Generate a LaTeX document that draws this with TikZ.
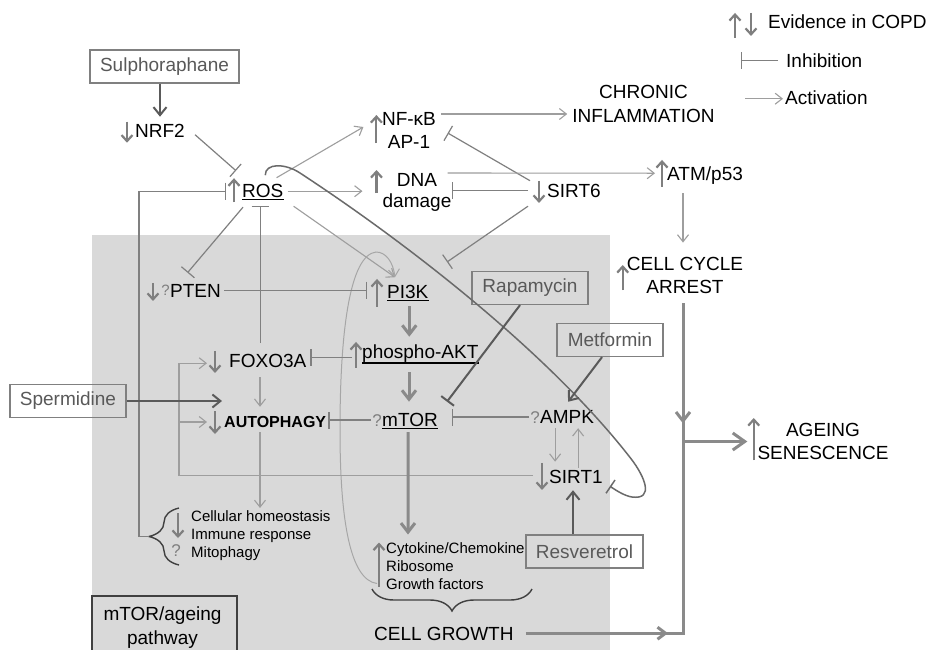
\documentclass[tikz,border=0pt]{standalone}
\usepackage{fontspec}
\setmainfont{Liberation Sans}
\usetikzlibrary{arrows.meta,calc,decorations.pathreplacing}
\definecolor{bgc}{HTML}{D9D9D9}
\definecolor{actc}{HTML}{9E9E9E}
\definecolor{inhc}{HTML}{808080}
\definecolor{drugc}{HTML}{5A5A5A}
\definecolor{thkc}{HTML}{8A8A8A}
\definecolor{evc}{HTML}{7F7F7F}
\definecolor{boxc}{HTML}{808080}
\definecolor{drugtxt}{HTML}{595959}
\definecolor{qc}{HTML}{7F7F7F}
\definecolor{brcc}{HTML}{404040}
\definecolor{loopc}{HTML}{6A6A6A}
\definecolor{curvec}{HTML}{A6A6A6}
\begin{document}
\begin{tikzpicture}[x=1pt,y=1pt,
  lab/.style={inner sep=0pt, anchor=base west, font=\fontsize{19}{23}\selectfont, text height=13.6pt, text depth=0pt},
  ml/.style={inner sep=0pt, align=center, font=\fontsize{19}{#1}\selectfont},
  drugbox/.style={draw=boxc, line width=1.2pt, text=drugtxt, font=\fontsize{19}{23}\selectfont, minimum width=#1, minimum height=33pt, inner sep=0pt},
  qm/.style={inner sep=0pt, anchor=base east, text=qc, font=\fontsize{17}{20}\selectfont},
  lst/.style={inner sep=0pt, anchor=north west, align=left, font=\fontsize{15}{18}\selectfont},
  act/.style={draw=actc, line width=1.1pt, -{Straight Barb[length=7pt,width=11pt]}},
  inh/.style={draw=inhc, line width=1.2pt, -{Bar[width=17pt]}},
  drug/.style={draw=drugc, line width=2pt, -{Straight Barb[length=8pt,width=13pt]}},
  druginh/.style={draw=drugc, line width=2pt, -{Bar[width=16pt]}},
  thk/.style={draw=thkc, line width=3pt},
  thka/.style={thk, -{Straight Barb[length=9pt,width=14pt]}},
  ev/.style={draw=evc, line width=2.2pt, -{Straight Barb[length=6pt,width=11pt]}},
  brc/.style={draw=brcc, line width=1.4pt, decorate, decoration={brace, amplitude=#1}},
  uln/.style={draw=black, line width=1.1pt},
  loopln/.style={draw=loopc, line width=1.5pt, -{Bar[width=16pt]}},
  pframe/.style={draw=brcc, line width=1.3pt}
]
\useasboundingbox (0,0) rectangle (928,-649);
\fill[white] (0,0) rectangle (928,-649);
\fill[bgc] (92,-235) rectangle (610,-660);

% ---------- nodes ----------
\node[lab] (nrf2) at (135,-137.5) {NRF2};
\node[lab] (ros) at (242,-197) {ROS};
\node[ml=23] (nfkb) at (409,-130) {NF-κB\\AP-1};
\node[ml=24] (chronic) at (643.5,-104) {CHRONIC\\INFLAMMATION};
\node[ml=21] (dna) at (417,-192) {DNA\\damage};
\node[lab] (sirt6) at (547,-197.5) {SIRT6};
\node[lab] (atm) at (667,-180) {ATM/p53};
\node[ml=23] (cca) at (685,-275) {CELL CYCLE\\ARREST};
\node[ml=23] (ageing) at (823,-441.5) {AGEING\\SENESCENCE};
\node[lab] (pten) at (170,-297) {PTEN};
\node[lab] (pi3k) at (387,-298) {PI3K};
\node[lab] (akt) at (362,-358) {phospho-AKT};
\node[lab] (foxo) at (229,-367) {FOXO3A};
\node[lab, font=\fontsize{16}{20}\selectfont\bfseries, text height=12pt] (auto) at (224,-427) {AUTOPHAGY};
\node[lab] (mtor) at (382,-426) {mTOR};
\node[lab] (ampk) at (540,-423) {AMPK};
\node[lab] (sirt1) at (549,-483) {SIRT1};
\node[lab] (cg) at (374,-640) {CELL GROWTH};

\node[qm, font=\fontsize{15}{18}\selectfont] (ptenq) at ($(pten.base west)+(0,2)$) {?};
\node[qm] (mtorq) at (mtor.base west) {?};
\node[qm] (ampkq) at (ampk.base west) {?};

\node[lst] (hom) at (191,-510) {Cellular homeostasis\\Immune response\\Mitophagy};
\node[lst] (cyt) at (386,-542.5) {Cytokine/Chemokine\\Ribosome\\Growth factors};
\node[qm, anchor=center] (homq) at ($(hom.north west)+(-15,-41)$) {?};

\node[ml=24] (mtorbox) at (162.5,-628) {mTOR/ageing\\pathway};
\draw[pframe] ($(mtorbox.center)+(-70.5,32)$) rectangle ($(mtorbox.center)+(74.5,-45)$);

\node[drugbox=149pt] (sulph) at (164.5,-66.5) {Sulphoraphane};
\node[drugbox=116pt] (sperm) at (68,-401) {Spermidine};
\node[drugbox=116pt] (rapa) at (530,-288) {Rapamycin};
\node[drugbox=106pt] (metf) at (610,-340) {Metformin};
\node[drugbox=117pt] (resv) at (584.5,-551.5) {Resveretrol};

% legend
\node[lab] (evl) at (768,-28) {Evidence in COPD};
\node[lab] (inhl) at (786,-67) {Inhibition};
\node[lab] (actl) at (785,-104) {Activation};
\draw[ev] ($(evl.west)+(-33,-16.75)$) -- ++(0,25);
\draw[ev] ($(evl.west)+(-17,8.25)$) -- ++(0,-23);
\draw[inh] ($(inhl.west)+(-8,0)$) -- ($(inhl.west)+(-45,0)$);
\draw[act] ($(actl.west)+(-40,-1.5)$) -- ($(actl.west)+(-2,-1.5)$);

% underlines
\draw[uln] ($(ros.base west)+(0,-2.5)$) -- ($(ros.base east)+(0,-2.5)$);
\draw[uln] ($(pi3k.base west)+(0,-2.2)$) -- ($(pi3k.base east)+(0,-2.2)$);
\draw[uln] ($(akt.base west)+(0,-5)$) -- ($(akt.base east)+(0,-5)$);
\draw[uln] ($(mtor.base west)+(0,-2.2)$) -- ($(mtor.base east)+(0,-2.2)$);

% evidence arrows
\draw[ev] ($(nrf2.west)+(-8,9)$) -- ++(0,-21);
\draw[ev] ($(ros.west)+(-8,-12)$) -- ++(0,24);
\draw[ev] ($(nfkb.west)+(-5.5,-13)$) -- ++(0,28);
\draw[ev] ($(dna.west)+(-6,-1)$) -- ++(0,23);
\draw[ev] ($(sirt6.west)+(-8,9.75)$) -- ++(0,-22);
\draw[ev] ($(atm.west)+(-5,-13.75)$) -- ++(0,27);
\draw[ev] ($(cca.west)+(-4,-15)$) -- ++(0,25);
\draw[ev] ($(ageing.west)+(-3.6,-18.5)$) -- ++(0,42);
\draw[ev] ($(pten.west)+(-17,7.25)$) -- ++(0,-18);
\draw[ev] ($(pi3k.west)+(-10,-15.75)$) -- ++(0,28);
\draw[ev] ($(akt.west)+(-6,-16.75)$) -- ++(0,26);
\draw[ev] ($(foxo.west)+(-14,9.25)$) -- ++(0,-22);
\draw[ev] ($(auto.west)+(-9,10)$) -- ++(0,-23);
\draw[ev] ($(sirt1.west)+(-7,13.25)$) -- ++(0,-27);
\draw[ev] ($(cyt.north west)+(-7,-44)$) -- ++(0,44);
\draw[ev] ($(hom.north west)+(-13,-3)$) -- ++(0,-25);

% braces
\coordinate (hb1) at (179,-565);
\coordinate (hb2) at (179,-508);
\draw[brc=30pt] (hb1) -- (hb2);
\coordinate (bracetip) at ($(hb1)!0.5!(hb2)+(-30,0)$);
\draw[brc=22pt] ($(cyt.north west)+(146,-46.5)$) -- ($(cyt.north west)+(-14,-46.5)$);

% ---------- connectors ----------
\draw[drug] (sulph.south -| nrf2.north) -- ($(nrf2.north)+(0,7)$);
\draw[inh] ($(nrf2.east)+(10,-4)$) -- ($(ros.north west)+(-6,12.5)$);
\draw[inh] (bracetip) -- ++(-10,0) |- ($(ros.west)+(-16,-1)$);
\draw[inh] ($(foxo.north -| ros.south)+(-2.6,10)$) -- ($(ros.south)+(-2.6,-9)$);
\draw[inh] ($(ros.south west)+(1,-10)$) -- ($(pten.north)+(-8,10.5)$);
\draw[act] ($(ros.north east)+(-7,5.5)$) -- ($(nfkb.west)+(-18.5,3)$);
\draw[act] ($(ros.east)+(4,-1)$) -- ($(ros.east -| dna.west)+(-20,-1)$);
\draw[act] ($(ros.south east)+(10,-9)$) -- ($(pi3k.north west)+(8,7)$);
\draw[act] ($(nfkb.east)+(5,16)$) -- ($(chronic.west |- nfkb.east)+(-5,16)$);
\draw[inh] ($(sirt6.west)+(-17,10)$) -- ($(nfkb.east)+(11.6,-3)$);
\draw[inh] ($(sirt6.west)+(-19,0)$) -- (sirt6.west -| dna.east);
\draw[act] ($(dna.east)+(-4,19)$) -- ($(atm.west)+(-12,0)$);
\coordinate (s6end) at (447,-262);
\draw[inh] ($(sirt6.south west)+(-19,-8.5)$) -- (s6end);
\draw[act] ($(atm.south west)+(16,-13)$) -- ($(cca.north)+(-2,14)$);

% ROS -| SIRT1 loop
\draw[loopln] ($(ros.north)+(2.5,8)$) .. controls (265,-163) and (285,-163) .. (300,-173)
  .. controls (410,-245) and (552,-356) .. (632,-460)
  .. controls (644,-476) and (655,-500) .. (632,-497)
  .. controls (625,-496) and (617,-491) .. ($(sirt1.east)+(7,-10)$);

% growth factors -> PI3K curve
\draw[act, draw=curvec, line width=1pt] ($(cyt.north west)+(-9,-41)$) .. controls (350,-580) and (340,-520) .. (340,-430)
  .. controls (340,-330) and (350,-255) .. (376,-252)
  .. controls (386,-252) and (393,-262) .. ($(pi3k.north west)+(8,7)$);

\draw[inh] ($(pten.east)+(3,0)$) -- ($(pten.east -| pi3k.west)+(-20,0)$);
\draw[thka] ($(pi3k.south)+(1.5,-8)$) -- ($(pi3k.south |- akt.north)+(1.5,7.5)$);
\draw[thka] ($(akt.south -| mtor.north)+(-1,-14)$) -- ($(mtor.north)+(-1,10.5)$);
\draw[inh] ($(akt.west)+(-10,-6)$) -- ($(foxo.east |- akt.west)+(4,-6)$);
\draw[act] ($(foxo.south west)+(31,-10)$) -- ($(foxo.south west |- auto.north)+(31,8)$);
\draw[act] ($(auto.south west)+(36,-5)$) -- ($(hom.north west)+(69,2)$);
\draw[inh] ($(mtorq.west)+(-1,0)$) -- ($(auto.east |- mtorq.west)+(2,0)$);
\draw[inh] ($(ampkq.west)+(-1,0)$) -- ($(mtor.east |- ampkq.west)+(14,0)$);
\draw[druginh] ($(rapa.south)+(-10,0)$) -- ($(mtor.north east)+(9,10.5)$);
\draw[drug] ($(metf.south)+(-8,0)$) -- ($(ampk.north)+(1,7.5)$);
\draw[act] ($(ampk.south)+(-12,-5)$) -- ($(ampk.south |- sirt1.north)+(-12,7.5)$);
\draw[act] ($(ampk.south |- sirt1.north)+(11,1.5)$) -- ($(ampk.south)+(11,-5)$);
\draw[drug] ($(resv.north)+(-11.5,0)$) -- ($(resv.north |- sirt1.south)+(-11.5,-7)$);
\draw[act] ($(sirt1.west)+(-16,1)$) -| ($(foxo.west)+(-50,-3)$) -- ($(foxo.west)+(-22,-3)$);
\draw[act] ($(auto.west)+(-45,-1)$) -- ($(auto.west)+(-17,-1)$);
\draw[drug] (sperm.east) -- ($(sperm.east -| auto.west)+(-2,0)$);
\draw[thka] ($(mtor.south)+(-2,-6)$) -- ($(cyt.north west)+(22,8)$);

% outputs to ageing
\coordinate (vbot) at ($(cca.south |- cg.east)+(-2,0)$);
\coordinate (jn) at ($(cca.south |- ageing.west)+(-2,0)$);
\draw[thka] ($(cca.south)+(-2,-10)$) -- ($(cca.south)+(-2,-130)$);
\draw[thk, line join=miter] ($(cca.south)+(-2,-125)$) -- (vbot) -- ($(vbot)+(-18,0)$);
\draw[thk, -{Straight Barb[length=12pt,width=17pt]}] (jn) -- ($(ageing.west)+(-10,0)$);
\draw[thk, -{Straight Barb[length=8pt,width=12pt]}] ($(cg.east)+(12,0)$) -- ($(vbot)+(-15,0)$);
\end{tikzpicture}
\end{document}
